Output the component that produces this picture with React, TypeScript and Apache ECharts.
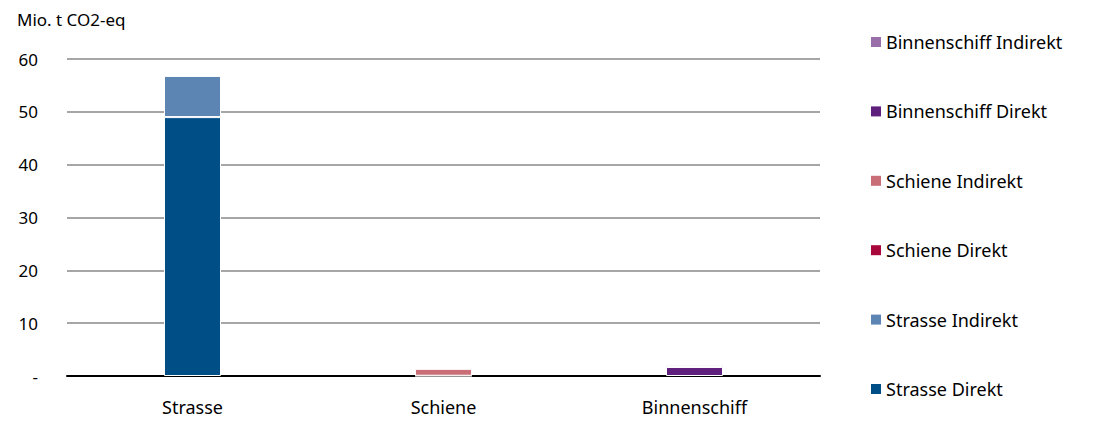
import React, { useEffect, useRef } from "react";
import * as echarts from "echarts";

// Transport modes on the x-axis
const categories = ["Strasse", "Schiene", "Binnenschiff"];

// Emissions in Mio. t CO2-eq, split by direct / indirect
const strasseDirekt = [49.0, null, null];
const strasseIndirekt = [7.8, null, null];
const schieneDirekt = [null, 0.05, null];
const schieneIndirekt = [null, 1.3, null];
const binnenschiffDirekt = [null, null, 1.7];
const binnenschiffIndirekt = [null, null, 0.4];

const seriesNames = [
  "Strasse Direkt",
  "Strasse Indirekt",
  "Schiene Direkt",
  "Schiene Indirekt",
  "Binnenschiff Direkt",
  "Binnenschiff Indirekt",
];
const seriesData = [
  strasseDirekt,
  strasseIndirekt,
  schieneDirekt,
  schieneIndirekt,
  binnenschiffDirekt,
  binnenschiffIndirekt,
];
const seriesColors = ["#004e86", "#5d85b4", "#a8083c", "#c96e76", "#5f1f7c", "#9a6fa9"];

const FONT = "'Noto Sans', sans-serif";

export default function App() {
  const ref = useRef<HTMLDivElement>(null);

  useEffect(() => {
    if (!ref.current) return;
    const chart = echarts.init(ref.current, undefined, { renderer: "svg" });
    chart.setOption({
      animation: false,
      backgroundColor: "#ffffff",
      textStyle: { fontFamily: FONT },
      title: {
        text: "Mio. t CO2-eq",
        left: 12,
        top: 6,
        textStyle: { fontFamily: FONT, fontSize: 17, fontWeight: "normal", color: "#000" },
      },
      legend: {
        orient: "vertical",
        left: 866,
        top: 28,
        itemWidth: 10,
        itemHeight: 10,
        itemGap: 51.4,
        itemStyle: { borderWidth: 0 },
        icon: "rect",
        data: [...seriesNames].reverse(),
        textStyle: { fontFamily: FONT, fontSize: 18, color: "#000", lineHeight: 18 },
      },
      grid: { left: 67, right: 274, top: 59, bottom: 45, containLabel: false },
      xAxis: {
        type: "category",
        data: categories,
        axisLine: { lineStyle: { color: "#000", width: 2 } },
        axisTick: { show: false },
        axisLabel: { fontFamily: FONT, fontSize: 18, color: "#000", margin: 22 },
      },
      yAxis: {
        type: "value",
        min: 0,
        max: 60,
        interval: 10,
        axisLine: { show: false },
        axisTick: { show: false },
        splitLine: { lineStyle: { color: "#a6a6a6", width: 2 } },
        axisLabel: {
          fontFamily: FONT,
          fontSize: 17,
          color: "#000",
          margin: 29,
          formatter: (v: number) => (v === 0 ? "-" : String(v)),
        },
      },
      series: seriesNames.map((name, i) => ({
        name,
        type: "bar",
        stack: "total",
        barWidth: 57,
        data: seriesData[i],
        itemStyle: { color: seriesColors[i], borderColor: "#ffffff", borderWidth: 1 },
        emphasis: { disabled: true },
      })),
    });
    return () => chart.dispose();
  }, []);

  return (
    <div
      ref={ref}
      style={{ position: "fixed", left: 0, top: 0, width: 1094, height: 421 }}
    />
  );
}
